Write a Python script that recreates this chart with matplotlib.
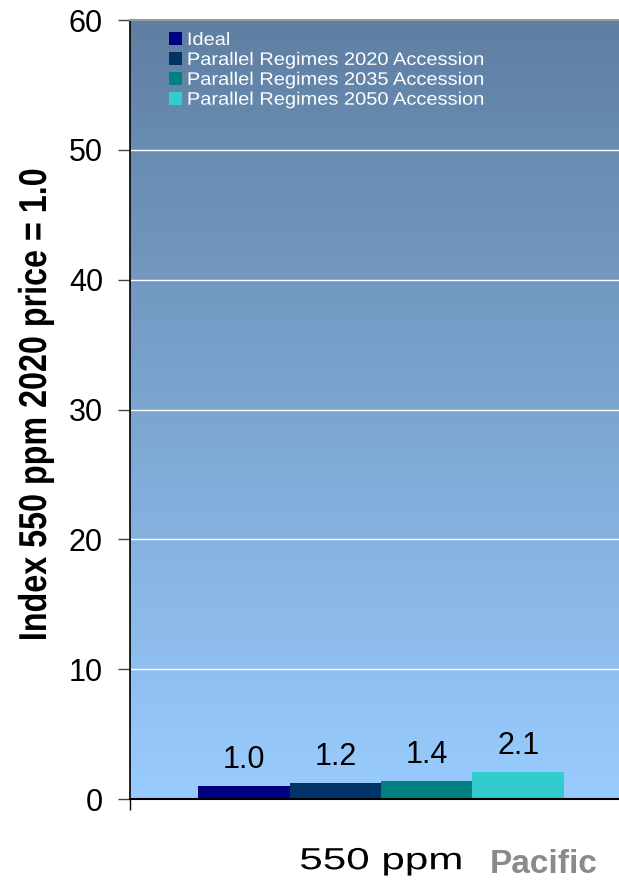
import numpy as np
import matplotlib
matplotlib.use("Agg")
import matplotlib.pyplot as plt
from matplotlib.patches import Patch
from matplotlib.patheffects import AbstractPathEffect
from matplotlib.transforms import Affine2D

# Data
scenarios = ["Ideal", "Parallel Regimes 2020 Accession",
             "Parallel Regimes 2035 Accession", "Parallel Regimes 2050 Accession"]
values = [1.0, 1.2, 1.4, 2.1]
colors = ["#000080", "#003366", "#008080", "#33CCCC"]
category = "550 ppm"
yticks = [0, 10, 20, 30, 40, 50, 60]
ylabel = "Index 550 ppm 2020 price = 1.0"


class Stretch(AbstractPathEffect):
    """Scale a text's glyphs horizontally/vertically about its own ink box."""

    def __init__(self, sx=1.0, sy=1.0, anchor="center"):
        super().__init__()
        self.sx, self.sy, self.anchor = sx, sy, anchor

    def draw_path(self, renderer, gc, tpath, affine, rgbFace=None):
        ext = tpath.transformed(affine).get_extents()
        cx = ext.x0 if self.anchor == "left" else 0.5 * (ext.x0 + ext.x1)
        cy = 0.5 * (ext.y0 + ext.y1)
        t = affine + Affine2D().translate(-cx, -cy).scale(self.sx, self.sy).translate(cx, cy)
        renderer.draw_path(gc, tpath, t, rgbFace)


W, H = 619, 880
fig = plt.figure(figsize=(W / 100, H / 100), dpi=100)
ax = fig.add_axes([130 / W, (H - 799) / H, 502 / W, 779 / H])

# Vertical gradient background of the plot area
top = np.array([95, 127, 162]) / 255
bot = np.array([153, 204, 255]) / 255
t = np.linspace(0, 1, 256)[:, None]
grad = (top[None, :] * (1 - t) + bot[None, :] * t)[:, None, :]
ax.imshow(grad, extent=[-0.5, 0.5, 0, 60], aspect="auto", zorder=0,
          interpolation="bilinear")

ax.set_xlim(-0.5, 0.5)
ax.set_ylim(0, 60)

# Grid lines
for y in yticks[1:-1]:
    ax.axhline(y, color="white", lw=1.0, zorder=1)

# Bars with value labels
group_w = 0.729
bw = group_w / len(values)
x0 = -group_w / 2 + bw / 2
for i, (v, c) in enumerate(zip(values, colors)):
    x = x0 + i * bw
    ax.bar(x, v, width=bw, color=c, zorder=2)
    ax.annotate(f"{v:.1f}", (x, v), xytext=(0, 8), textcoords="offset points",
                ha="center", va="bottom", fontsize=22,
                family="Liberation Sans", color="black", zorder=3)

# Axes styling
for s in ["top", "right"]:
    ax.spines[s].set_visible(False)
ax.spines["left"].set_color("black")
ax.spines["bottom"].set_color("black")
ax.spines["left"].set_linewidth(1.2)
ax.spines["bottom"].set_linewidth(1.5)

ax.set_yticks(yticks)
ax.set_yticklabels([str(v) for v in yticks], fontsize=22, family="Liberation Sans")
ax.tick_params(axis="y", length=8.5, width=1, color="#444444", pad=11)

ax.set_xticks([0])
ax.set_xticklabels([category], fontsize=22, family="Liberation Sans")
ax.tick_params(axis="x", which="major", length=0, pad=34)
for lab in ax.get_xticklabels():
    lab.set_path_effects([Stretch(sx=1.38)])
ax.set_xticks([-0.5], minor=True)
ax.tick_params(axis="x", which="minor", length=8, width=1, color="black")

# Vertical axis title (condensed bold)
fig.text(36 / W, (H - 405) / H, ylabel, rotation=90, ha="center", va="center",
         fontsize=28, fontweight="bold", family="Liberation Sans",
         path_effects=[Stretch(sy=0.83)])

# Legend
handles = [Patch(facecolor=c, edgecolor="none") for c in colors]
leg = ax.legend(handles, scenarios, loc="upper left",
                bbox_to_anchor=(39 / 502, (799 - 32) / 779),
                frameon=False, handlelength=0.72,
                handleheight=0.72, handletextpad=0.28, labelspacing=0.16,
                borderaxespad=0, borderpad=0,
                prop={"family": "Liberation Sans", "size": 13})
for txt in leg.get_texts():
    txt.set_color("white")
    txt.set_path_effects([Stretch(sx=1.11, anchor="left")])

# Gray border along the top of the plot area
ax.plot([-0.5, 0.5], [60, 60], color="#999999", lw=1.5, clip_on=False, zorder=4)

# Logo text at the lower right
fig.text(490 / W, 0, "Pacific", fontsize=24, fontweight="bold",
         family="Liberation Sans", color="#8a8a8a", ha="left", va="bottom")

fig.savefig("out.png", dpi=100)
